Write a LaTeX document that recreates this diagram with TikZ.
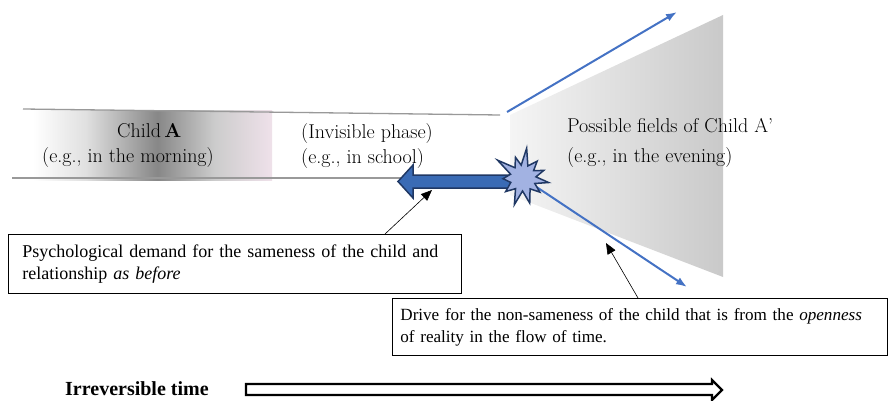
\documentclass[tikz,border=0pt]{standalone}
\usepackage{fontspec}
\newfontfamily\notefont{Liberation Serif}
\usetikzlibrary{arrows.meta,calc}
\definecolor{driftblue}{HTML}{4472C4}
\definecolor{darknavy}{HTML}{203864}
\definecolor{pushblue}{HTML}{3A6BB5}
\definecolor{burstfill}{HTML}{A2B2E2}
\definecolor{pinkish}{HTML}{EFE1EA}
\pgfdeclarehorizontalshading{morningband}{100bp}{color(0bp)=(white); color(25bp)=(white); color(36bp)=(black!12); color(51bp)=(black!47); color(63bp)=(black!20); color(75bp)=(pinkish); color(100bp)=(pinkish)}
\tikzset{
	boundary/.style={draw=black!40,line width=1.3pt},%
	phasetext/.style={anchor=base west,inner sep=0pt,font=\fontsize{20}{24}\selectfont},%
	field/.style={left color=black!4,right color=black!21},%
	drift/.style={driftblue,line width=2pt,-{Latex[length=11pt,width=8pt]}},%
	push/.style={fill=pushblue,draw=darknavy,line width=1.5pt,line join=miter},%
	burst/.style={fill=burstfill,draw=darknavy,line width=1.5pt,line join=miter},%
	notebox/.style={draw,line width=0.8pt,anchor=north west,align=left,font=\notefont\fontsize{18}{22}\selectfont},%
	pointer/.style={-{Triangle[length=11pt,width=9pt]},line width=0.6pt},%
	timetext/.style={anchor=base west,inner sep=0pt,font=\notefont\bfseries\fontsize{20}{24}\selectfont},%
	timearrow/.style={draw,line width=2.2pt,fill=white,line join=miter},%
}
\def\bandtop{111}
\def\bandbottom{180}

\begin{document}
\begin{tikzpicture}[%
		x=1pt,y=-1pt,%
		]
		\useasboundingbox (0,0) rectangle (891,401);
		% the morning band and the invisible phase
		\shade[shading=morningband] (33,\bandtop) rectangle (272,\bandbottom);
		\draw[boundary] (23,109) -- (500,115);
		\draw[boundary] (12,178) -- (510,178);
		% the field of A'
		\shade[field] (510,115) -- (723,15) -- (723,277) -- (510,195) -- cycle;
		\node[phasetext] (childA) at (117,138) {Child\,\textbf{A}};
		\node[phasetext] (morning) at (42,162) {(e.g., in the morning)};
		\node[phasetext] (invisible) at (301,139) {(Invisible phase)};
		\node[phasetext] (school) at (301,163) {(e.g., in school)};
		\node[phasetext] (fields) at (567,132) {Possible fields of Child A'};
		\node[phasetext] (evening) at (567,162) {(e.g., in the evening)};
		% drive outwards
		\coordinate (bang) at (523,178);
		\coordinate (upend) at (677,12);
		\coordinate (downend) at (687,287);
		\draw[drift] (507,112) -- (upend);
		\draw[drift] (bang) -- (downend);
		% pull back to sameness
		\draw[push] (512,175) -- (413,175) -- (413,165) -- (398,181.5) -- (413,198) -- (413,188) -- (512,188) -- cycle;
		\coordinate (pushbelow) at (432,190);
		\begin{scope}[shift={(bang)}]
			\draw[burst] (215:31) \foreach \a/\r in {232/13,250/22,262/13,277/30,292/13,310/22,325/13,340/22,355/13,10/26,25/13,40/22,57/13,75/26,92/13,108/28,125/13,142/22,160/13,178/20,197/13} {-- (\a:\r)} -- cycle;
		\end{scope}
		% notes
		\node[notebox,text width=425pt,inner xsep=14pt,minimum height=59pt] (sameness) at (8,234) {Psychological demand for the sameness of the child and\\relationship \textit{as before}};
		\node[notebox,font=\notefont\fontsize{17.1}{22}\selectfont,text width=479pt,inner xsep=8pt,minimum height=57pt] (nonsameness) at (392,298) {Drive for the non-sameness of the child that is from the \textit{openness}\\of reality in the flow of time.};
		\draw[pointer] ($(sameness.north west)+(377,0)$) -- (pushbelow);
		\draw[pointer] ($(nonsameness.north west)+(246,0)$) -- (606,243);
		% time
		\node[timetext] (irrtime) at (65,395) {Irreversible time};
		\draw[timearrow] (246,384) -- (712,384) -- (712,380) -- (722,390) -- (712,400) -- (712,395) -- (246,395) -- cycle;
	\end{tikzpicture}
\end{document}
